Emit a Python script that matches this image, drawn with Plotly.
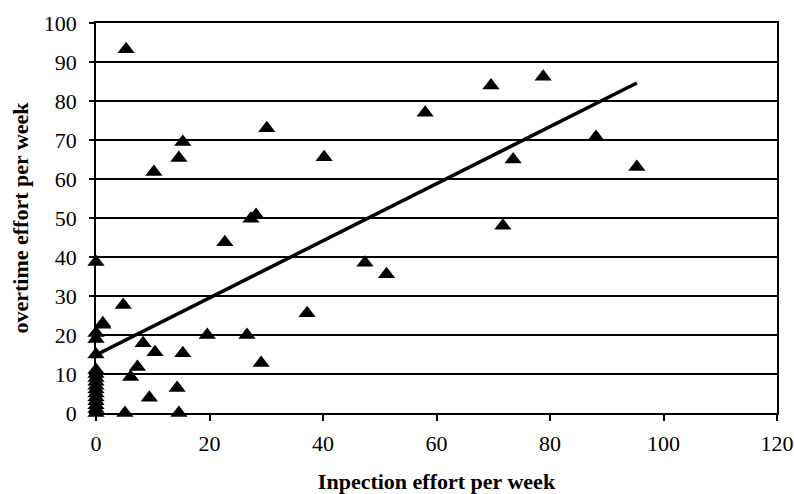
import plotly.graph_objects as go

# Scatter data (inspection effort vs overtime effort per week)
inspection = [
    0, 0, 0, 0, 0, 0, 0, 0, 0, 0, 0, 0, 0, 0, 0, 0,
    1.2, 1.2, 4.8, 5.3, 5.1, 6.1, 7.3, 8.3, 9.4, 10.4, 10.2,
    14.3, 14.6, 15.3, 14.6, 15.3, 19.6, 22.7, 26.6, 27.3, 28.2,
    29.1, 30.1, 37.2, 40.2, 47.4, 51.2, 58.0, 69.6, 71.7, 73.5,
    78.8, 88.1, 95.3,
]
overtime = [
    38.7, 20.5, 19.0, 15.0, 11.0, 10.0, 9.0, 8.0, 7.0, 6.0, 5.0, 4.0, 3.0, 2.0, 1.0, 0.0,
    22.6, 23.0, 27.7, 93.3, 0.0, 9.2, 11.8, 17.9, 3.9, 15.6, 61.8,
    6.4, 0.0, 15.3, 65.4, 69.5, 20.0, 43.8, 20.0, 49.8, 50.8,
    12.8, 73.0, 25.6, 65.6, 38.5, 35.6, 77.0, 84.0, 48.0, 65.0,
    86.2, 70.8, 63.1,
]

# Linear trend line endpoints
trend_x = [0, 95.3]
trend_y = [14.9, 84.6]

x_ticks = [0, 20, 40, 60, 80, 100, 120]
y_ticks = [0, 10, 20, 30, 40, 50, 60, 70, 80, 90, 100]

FONT = "Liberation Serif, Times New Roman, serif"

fig = go.Figure()
fig.add_trace(go.Scatter(
    x=inspection, y=overtime, mode="markers",
    marker=dict(symbol="triangle-up", size=15, color="black"),
    showlegend=False, cliponaxis=False,
))
fig.add_trace(go.Scatter(
    x=trend_x, y=trend_y, mode="lines",
    line=dict(color="black", width=3.5),
    showlegend=False,
))

fig.update_layout(
    width=794, height=494,
    margin=dict(l=96, r=17, t=23, b=81, autoexpand=False),
    paper_bgcolor="white", plot_bgcolor="white",
    font=dict(family=FONT, color="black", size=22),
    xaxis=dict(
        range=[0, 120], tickvals=x_ticks, ticktext=[str(v) for v in x_ticks],
        showgrid=False, zeroline=False, automargin=False,
        showline=True, linecolor="black", linewidth=1.5, mirror=True,
        ticks="outside", ticklen=6, tickwidth=1.5, tickcolor="black",
        ticklabelstandoff=4,
        tickfont=dict(family=FONT, size=22),
        title=dict(text="<b>Inpection effort per week</b>", standoff=24,
                   font=dict(family=FONT, size=22)),
    ),
    yaxis=dict(
        range=[0, 100], tickvals=y_ticks, ticktext=[str(v) for v in y_ticks],
        showgrid=True, gridcolor="black", gridwidth=1.5, zeroline=False, automargin=False,
        showline=True, linecolor="black", linewidth=1.5, mirror=True,
        ticks="outside", ticklen=5, tickwidth=1.5, tickcolor="black",
        ticklabelstandoff=8,
        tickfont=dict(family=FONT, size=22),
        title=dict(text="<b>overtime effort per week</b>", standoff=9,
                   font=dict(family=FONT, size=22)),
    ),
)

fig.write_html("out.html")
